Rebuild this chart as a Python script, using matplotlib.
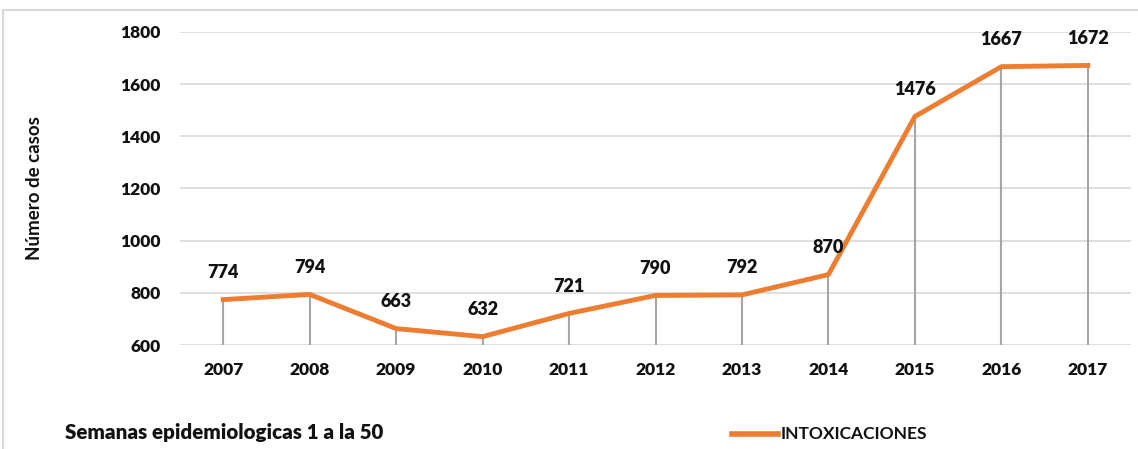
import matplotlib
matplotlib.use("Agg")
import matplotlib.pyplot as plt
from matplotlib.patches import Rectangle
from matplotlib.lines import Line2D

years = ["2007", "2008", "2009", "2010", "2011", "2012", "2013", "2014", "2015", "2016", "2017"]
cases = [774, 794, 663, 632, 721, 790, 792, 870, 1476, 1667, 1672]
yticks = [600, 800, 1000, 1200, 1400, 1600, 1800]
series_name = "INTOXICACIONES"
ylabel = "Número de casos"
note = "Semanas epidemiologicas 1 a la 50"

plt.rcParams['font.family'] = ['Lato', 'DejaVu Sans']
ORANGE = "#ED7D31"
TXT = "#111111"

fig = plt.figure(figsize=(11.38, 4.49), dpi=100)
# chart area border (partly cropped)
fig.add_artist(Rectangle((3/1138, -0.1), 1.2, (449-10)/449 + 0.1, transform=fig.transFigure,
                         fill=False, edgecolor="#D9D9D9", linewidth=1.5))

ax = fig.add_axes([180/1138, (449-345)/449, 951/1138, (345-32)/449])
x = list(range(len(years)))
ax.set_xlim(-0.5, len(years) - 0.5)
ax.set_ylim(600, 1800)
ax.set_yticks(yticks)
ax.set_yticklabels([str(v) for v in yticks])
ax.set_xticks(x)
ax.set_xticklabels(years)
ax.grid(axis='y', color="#D9D9D9", linewidth=1.2)
ax.set_axisbelow(True)
for s in ax.spines.values():
    s.set_visible(False)
ax.tick_params(length=0, labelsize=12.5, labelcolor=TXT)
ax.tick_params(axis='x', pad=12)
ax.tick_params(axis='y', pad=14)
for lab in ax.get_xticklabels() + ax.get_yticklabels():
    lab.set_fontweight('heavy')

ax.vlines(x, 600, cases, color="#A6A6A6", linewidth=1.5, zorder=2)
ax.plot(x, cases, color=ORANGE, linewidth=3.5, zorder=3, solid_joinstyle='round')
for xi, v in zip(x, cases):
    ax.annotate(str(v), (xi, v), xytext=(0, 19.5), textcoords='offset points',
                ha='center', va='center', fontsize=13, fontweight='heavy', color=TXT)

fig.text(35/1138, 1 - 188/449, ylabel, rotation=90, ha='center', va='center',
         fontsize=13.5, fontweight='bold', color=TXT)
fig.text(65/1138, 1 - 433/449, note, ha='left', va='center', fontsize=14.8,
         fontweight='heavy', color=TXT)
fig.add_artist(Line2D([732/1138, 778/1138], [1 - 434/449, 1 - 434/449], transform=fig.transFigure,
                      color=ORANGE, linewidth=4))
fig.text(781/1138, 1 - 434/449, series_name, ha='left', va='center', fontsize=12.5,
         fontweight='bold', color=TXT)

fig.savefig("out.png", dpi=100, facecolor="white")
